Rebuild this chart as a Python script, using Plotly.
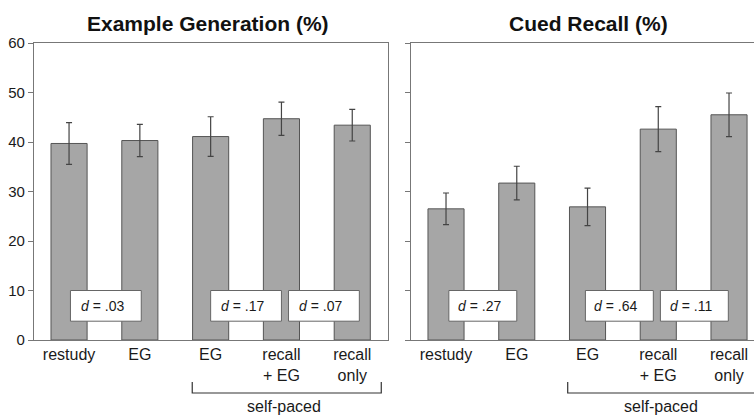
import plotly.graph_objects as go

# ---- data ----
tick_labels = ["restudy", "EG", "EG", "recall<br>+ EG", "recall<br>only"]
eg_means = [39.7, 40.3, 41.1, 44.7, 43.4]
eg_errors = [4.2, 3.25, 4.0, 3.35, 3.2]
cr_means = [26.5, 31.7, 26.9, 42.6, 45.5]
cr_errors = [3.2, 3.4, 3.8, 4.55, 4.4]
eg_d_labels = [".03", ".17", ".07"]
cr_d_labels = [".27", ".64", ".11"]
panel_titles = ["Example Generation (%)", "Cued Recall (%)"]
bracket_label = "self-paced"

W, H = 754, 417
FONT = "Liberation Sans, Arial, sans-serif"
BAR_FILL = "#a6a6a6"
BAR_LINE = "#555555"
ERR_COL = "#444444"
FRAME = "#777777"

x_pos = list(range(len(tick_labels)))

def px_x(p):
    return p / W

def px_y(p):
    return (H - p) / H

fig = go.Figure()
for i, (means, errs) in enumerate([(eg_means, eg_errors), (cr_means, cr_errors)]):
    fig.add_trace(go.Bar(
        x=x_pos, y=means,
        width=0.51,
        marker=dict(color=BAR_FILL, line=dict(color=BAR_LINE, width=1)),
        error_y=dict(type="data", array=errs, visible=True, color=ERR_COL,
                     thickness=1.2, width=3),
        xaxis="x" if i == 0 else "x2",
        yaxis="y" if i == 0 else "y2",
        showlegend=False, hoverinfo="skip",
    ))

ydom = [px_y(340), px_y(43)]
common_x = dict(tickmode="array", tickvals=x_pos, ticktext=tick_labels,
                ticks="", showgrid=False, zeroline=False,
                tickfont=dict(family=FONT, size=16, color="#1a1a1a"),
                linecolor=FRAME, linewidth=1.2, showline=True, mirror=True,
                fixedrange=True)
common_y = dict(range=[0, 60], dtick=10, tick0=0, showgrid=False, zeroline=False,
                ticks="outside", ticklen=5, tickcolor=FRAME, tickwidth=1,
                linecolor=FRAME, linewidth=1.2, showline=True,
                tickfont=dict(family=FONT, size=15, color="#1a1a1a"),
                fixedrange=True)

fig.update_layout(
    width=W, height=H,
    margin=dict(l=0, r=0, t=0, b=0, autoexpand=False),
    paper_bgcolor="white", plot_bgcolor="white",
    xaxis=dict(domain=[px_x(34), px_x(388)], range=[-0.495, 4.505], anchor="y", **common_x),
    yaxis=dict(domain=ydom, anchor="x", mirror=True, showticklabels=True, **common_y),
    xaxis2=dict(domain=[px_x(411), 1.0], range=[-0.495, 4.353], anchor="y2", **common_x),
    yaxis2=dict(domain=ydom, anchor="x2", mirror=False, showticklabels=False, **common_y),
)

# titles
for title, cx in zip(panel_titles, [208, 588]):
    fig.add_annotation(text="<b>" + title + "</b>", x=px_x(cx), y=px_y(24),
                       xref="paper", yref="paper", xanchor="center", yanchor="middle",
                       showarrow=False, font=dict(family=FONT, size=21, color="#111"))

# effect-size boxes
box_centers = {"x": [0.52, 2.5, 3.6], "x2": [0.52, 2.45, 3.51]}
for xr, yr, labels in [("x", "y", eg_d_labels), ("x2", "y2", cr_d_labels)]:
    for c, lab in zip(box_centers[xr], labels):
        hw = 0.5 if xr == "x" else 0.48
        fig.add_shape(type="rect", xref=xr, yref=yr, x0=c - hw, x1=c + hw, y0=3.8, y1=10.0,
                      fillcolor="white", line=dict(color="#666", width=1), layer="above")
        fig.add_annotation(text="<i>d</i> = " + lab, xref=xr, yref=yr, x=c - 0.05, y=6.9,
                           xanchor="center", yanchor="middle",
                           showarrow=False, font=dict(family=FONT, size=14, color="#1a1a1a"))

# self-paced brackets
for xr, x0, x1 in [("x", 1.74, 4.41), ("x2", 1.72, 4.40)]:
    fig.add_shape(type="path", xref=xr, yref="paper",
                  path=f"M {x0},{px_y(382)} L {x0},{px_y(393)} L {x1},{px_y(393)} L {x1},{px_y(382)}",
                  line=dict(color="#333", width=1.2))
    fig.add_annotation(text=bracket_label, xref=xr, yref="paper", x=3.04, y=px_y(406),
                       xanchor="center", yanchor="middle",
                       showarrow=False, font=dict(family=FONT, size=16, color="#1a1a1a"))

fig.write_html("out.html", config={"displayModeBar": False},
               post_script="document.body.style.margin='0px';document.body.style.overflow='hidden';")
